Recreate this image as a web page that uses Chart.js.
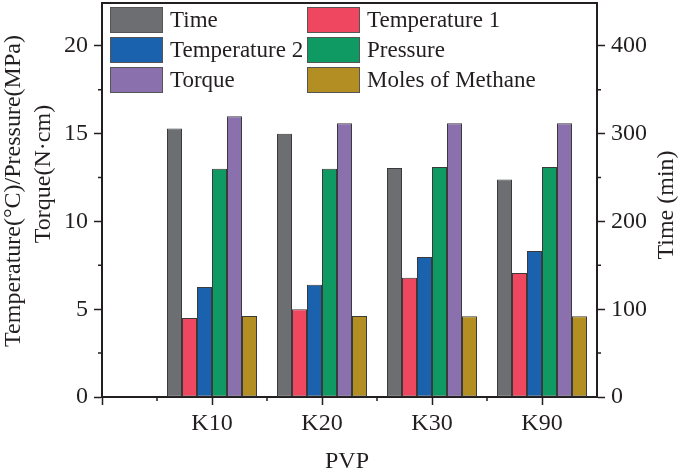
<!DOCTYPE html>
<html>
<head>
<meta charset="utf-8">
<script src="https://cdn.jsdelivr.net/npm/chart.js@4"></script>
<style>
html, body { margin: 0; padding: 0; background: #fff; }
canvas { display: block; }
</style>
</head>
<body>
<canvas id="pvpChart" width="685" height="473"></canvas>
<script>
const categories = ['K10', 'K20', 'K30', 'K90'];
const timeMin = [306, 300, 261, 248];
const temperature1 = [4.5, 5.0, 6.8, 7.07];
const temperature2 = [6.27, 6.4, 7.98, 8.32];
const pressure = [13.0, 13.0, 13.1, 13.1];
const torque = [16.0, 15.6, 15.6, 15.6];
const molesMethane = [4.62, 4.62, 4.6, 4.6];
const leftTicks = [0, 5, 10, 15, 20];
const rightTicks = [0, 100, 200, 300, 400];

const ink = '#231f20';
const serif = '"Liberation Serif", "Times New Roman", serif';
const tickFont = { family: serif, size: 24 };

// bars sit at 1..n on a linear axis, the axis runs from 0 to n + 0.5
const xy = vals => vals.map((v, i) => ({ x: i + 1, y: v }));

const bar = (label, vals, color, axis) => ({
    label: label,
    data: xy(vals),
    yAxisID: axis,
    backgroundColor: color,
    borderColor: '#3a3a3a',
    borderWidth: 1,
    borderSkipped: false,
    inflateAmount: 0,
    categoryPercentage: 90 / 110,  // 6 bars of 15px in a 110px slot
    barPercentage: 1.0
});

const extras = {
    id: 'extras',
    afterDraw(chart) {
        const { ctx, chartArea: a, scales } = chart;
        ctx.save();
        ctx.strokeStyle = ink;

        // top frame line
        ctx.lineWidth = 2;
        ctx.beginPath();
        ctx.moveTo(a.left - 1, a.top);
        ctx.lineTo(a.right + 1, a.top);
        ctx.stroke();

        // minor ticks
        ctx.lineWidth = 1.5;
        ctx.beginPath();
        categories.forEach((c, i) => {
            const px = scales.x.getPixelForValue(i + 0.5);
            ctx.moveTo(px, a.bottom);
            ctx.lineTo(px, a.bottom + 4);
        });
        leftTicks.forEach(v => {
            const py = scales.y.getPixelForValue(v + 2.5);
            if (py < a.top) return;
            ctx.moveTo(a.left, py);
            ctx.lineTo(a.left - 4, py);
        });
        rightTicks.forEach(v => {
            const py = scales.y1.getPixelForValue(v + 50);
            if (py < a.top) return;
            ctx.moveTo(a.right, py);
            ctx.lineTo(a.right + 4, py);
        });
        ctx.stroke();

        // legend, two columns inside the plot
        ctx.font = '23px ' + serif;
        ctx.textBaseline = 'middle';
        chart.data.datasets.forEach((d, i) => {
            const col = i % 2, row = Math.floor(i / 2);
            const x = a.left + 8 + col * 197;
            const y = a.top + 4 + row * 30;
            ctx.fillStyle = d.backgroundColor;
            ctx.fillRect(x, y, 53, 26);
            ctx.strokeStyle = '#555';
            ctx.lineWidth = 1;
            ctx.strokeRect(x + 0.5, y + 0.5, 52, 25);
            ctx.fillStyle = ink;
            ctx.fillText(d.label, x + 60, y + 14);
        });

        // axis titles
        ctx.font = '24px ' + serif;
        ctx.fillStyle = ink;
        ctx.textAlign = 'center';
        const vText = (text, x, y) => {
            ctx.save();
            ctx.translate(x, y);
            ctx.rotate(-Math.PI / 2);
            ctx.fillText(text, 0, 0);
            ctx.restore();
        };
        vText('Temperature(\u00B0C)/Pressure(MPa)', 14, 191);
        vText('Torque(N\u00B7cm)', 44, 174);
        vText('Time (min)', 667, 205);
        ctx.fillText('PVP', 347, 462);
        ctx.restore();
    }
};

new Chart(document.getElementById('pvpChart'), {
    type: 'bar',
    data: {
        datasets: [
            bar('Time', timeMin, '#6d6e71', 'y1'),
            bar('Temperature 1', temperature1, '#ef4760', 'y'),
            bar('Temperature 2', temperature2, '#1a62ae', 'y'),
            bar('Pressure', pressure, '#0f9a63', 'y'),
            bar('Torque', torque, '#8a71ad', 'y'),
            bar('Moles of Methane', molesMethane, '#b38f23', 'y')
        ]
    },
    options: {
        responsive: false,
        animation: false,
        layout: { padding: { top: 3, left: 0, right: 0, bottom: 0 } },
        plugins: { legend: { display: false }, tooltip: { enabled: false } },
        scales: {
            x: {
                type: 'linear',
                offset: false,
                min: 0,
                max: categories.length + 0.5,
                afterBuildTicks: s => {
                    s.ticks = [0].concat(categories.map((c, i) => i + 1)).map(v => ({ value: v }));
                },
                ticks: {
                    callback: v => categories[v - 1] || '',
                    font: tickFont, color: ink, padding: 4,
                    maxRotation: 0, autoSkip: false
                },
                grid: { offset: false, drawOnChartArea: false, tickLength: 8, tickWidth: 1.5, tickColor: ink },
                border: { color: ink, width: 2 },
                afterFit: s => { s.height = 76; s.paddingLeft = 0; s.paddingRight = 0; }
            },
            y: {
                position: 'left',
                min: 0,
                max: 22.45,
                afterBuildTicks: s => { s.ticks = leftTicks.map(v => ({ value: v })); },
                ticks: { font: tickFont, color: ink, padding: 6 },
                grid: { drawOnChartArea: false, tickLength: 8, tickWidth: 1.5, tickColor: ink },
                border: { color: ink, width: 2 },
                afterFit: s => { s.width = 102; s.paddingTop = 0; s.paddingBottom = 0; }
            },
            y1: {
                position: 'right',
                min: 0,
                max: 449,
                afterBuildTicks: s => { s.ticks = rightTicks.map(v => ({ value: v })); },
                ticks: { font: tickFont, color: ink, padding: 6 },
                grid: { drawOnChartArea: false, tickLength: 8, tickWidth: 1.5, tickColor: ink },
                border: { color: ink, width: 2 },
                afterFit: s => { s.width = 88; s.paddingTop = 0; s.paddingBottom = 0; }
            }
        }
    },
    plugins: [extras]
});
</script>
</body>
</html>
